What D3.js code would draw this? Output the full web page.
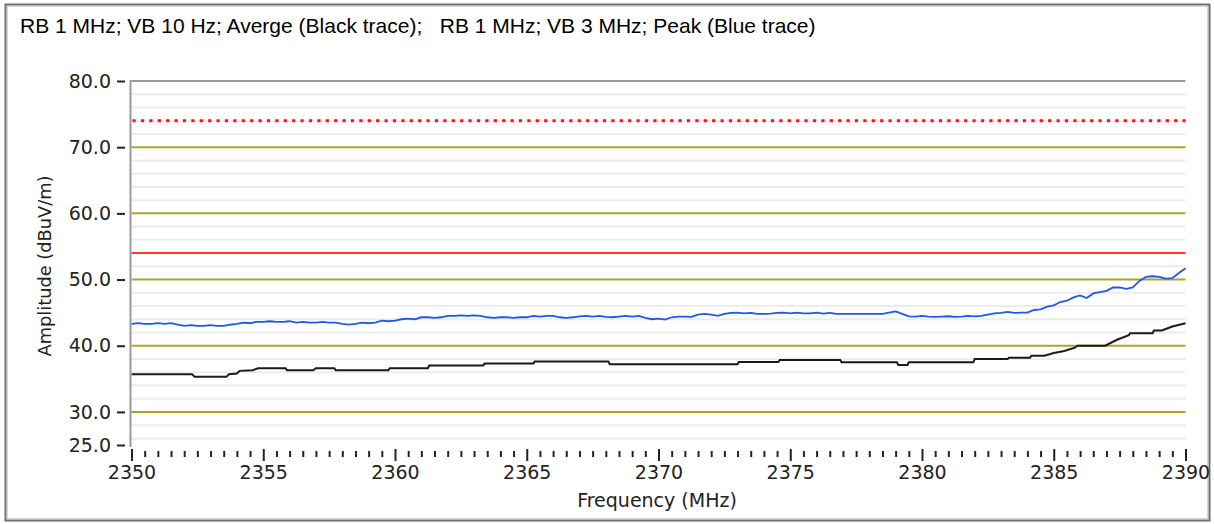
<!DOCTYPE html>
<html>
<head>
<meta charset="utf-8">
<script src="https://cdn.jsdelivr.net/npm/d3@7"></script>
<style>
  html, body { margin: 0; padding: 0; background: #ffffff; }
  svg { display: block; }
</style>
</head>
<body>
<svg id="chart" width="1214" height="524"></svg>
<script>
// Sweep settings: 2350–2390 MHz, trace points every 0.25 MHz
const sweepStart = 2350;
const sweepStep = 0.25;

// Peak detector trace (RB 1 MHz, VB 3 MHz), dBuV/m
const peakTrace = [
  43.3, 43.4, 43.3, 43.3,
  43.4, 43.3, 43.4, 43.2,
  43.0, 43.1, 43.0, 43.0,
  43.1, 43.0, 43.0, 43.2,
  43.3, 43.5, 43.4, 43.6,
  43.6, 43.7, 43.6, 43.6,
  43.7, 43.5, 43.6, 43.5,
  43.5, 43.6, 43.5, 43.5,
  43.3, 43.2, 43.3, 43.5,
  43.4, 43.5, 43.8, 43.7,
  43.8, 44.0, 44.1, 44.0,
  44.3, 44.3, 44.2, 44.3,
  44.5, 44.5, 44.6, 44.5,
  44.6, 44.5, 44.3, 44.2,
  44.3, 44.3, 44.2, 44.3,
  44.3, 44.5, 44.4, 44.5,
  44.5, 44.3, 44.2, 44.3,
  44.45, 44.5, 44.4, 44.5,
  44.35, 44.3, 44.4, 44.5,
  44.4, 44.5, 44.2, 44.0,
  44.1, 43.95, 44.3, 44.4,
  44.4, 44.35, 44.7, 44.8,
  44.7, 44.5, 44.8, 44.95,
  45.0, 44.9, 44.95, 44.8,
  44.8, 44.85, 44.95, 45.0,
  44.9, 45.0, 44.9, 44.9,
  45.0, 44.85, 44.95, 44.8,
  44.8, 44.8, 44.8, 44.8,
  44.8, 44.8, 44.8, 45.0,
  45.2, 44.8, 44.45, 44.4,
  44.5, 44.4, 44.35, 44.4,
  44.45, 44.35, 44.4, 44.5,
  44.45, 44.5, 44.7, 44.9,
  44.95, 45.1, 44.95, 45.0,
  45.0, 45.4, 45.5, 45.9,
  46.1, 46.6, 46.8, 47.3,
  47.6, 47.2, 47.9, 48.1,
  48.3, 48.8, 48.8, 48.6,
  48.8, 49.8, 50.4, 50.5,
  50.4, 50.15, 50.2, 51.0,
  51.7
];

// Average detector trace (RB 1 MHz, VB 10 Hz): [frequency MHz, dBuV/m]
const averageTrace = [
  [2350.0, 35.7], [2352.3, 35.7], [2352.4, 35.3], [2353.6, 35.3],
  [2353.7, 35.7], [2354.0, 35.8], [2354.1, 36.2], [2354.6, 36.3],
  [2354.8, 36.6], [2355.85, 36.6], [2355.9, 36.3], [2356.9, 36.3],
  [2357.0, 36.6], [2357.7, 36.6], [2357.75, 36.3], [2359.75, 36.3],
  [2359.8, 36.6], [2361.25, 36.6], [2361.3, 37.0], [2363.35, 37.0],
  [2363.4, 37.3], [2365.25, 37.3], [2365.3, 37.6], [2368.1, 37.6],
  [2368.15, 37.2], [2373.0, 37.2], [2373.05, 37.55], [2374.55, 37.55],
  [2374.6, 37.85], [2376.9, 37.85], [2376.95, 37.5], [2379.05, 37.5],
  [2379.1, 37.1], [2379.45, 37.1], [2379.5, 37.5], [2381.95, 37.5],
  [2382.0, 38.0], [2383.25, 38.0], [2383.3, 38.2], [2384.1, 38.2],
  [2384.15, 38.5], [2384.65, 38.5], [2385.0, 38.9], [2385.4, 39.2],
  [2385.8, 39.7], [2385.9, 40.0], [2386.95, 40.0], [2387.4, 40.9],
  [2387.85, 41.6], [2387.9, 41.9], [2388.75, 41.9], [2388.8, 42.3],
  [2389.1, 42.3], [2389.5, 42.9], [2390.0, 43.4]
];

// Limit lines
const peakLimit = 74;
const averageLimit = 54;

// Axis ticks
const yMajorTicks = [25, 30, 40, 50, 60, 70, 80];
const yMinorGrid = [26, 28, 32, 34, 36, 38, 42, 44, 46, 48, 52, 54, 56, 58, 62, 64, 66, 68, 72, 74, 76, 78];
const yOliveGrid = [30, 40, 50, 60, 70];
const xMajorTicks = [2350, 2355, 2360, 2365, 2370, 2375, 2380, 2385, 2390];

const titleText = "RB 1 MHz; VB 10 Hz; Averge (Black trace);   RB 1 MHz; VB 3 MHz; Peak (Blue trace)";

const svg = d3.select("#chart");

// Outer frame
svg.append("rect")
  .attr("x", 5.5).attr("y", 4.5)
  .attr("width", 1204).attr("height", 516)
  .attr("fill", "#ffffff")
  .attr("stroke", "#6e6e6e").attr("stroke-width", 2);
svg.append("rect")
  .attr("x", 7.5).attr("y", 6.5)
  .attr("width", 1200).attr("height", 512)
  .attr("fill", "none")
  .attr("stroke", "#d6d6d6").attr("stroke-width", 1);

svg.append("text")
  .attr("x", 20).attr("y", 33)
  .attr("font-family", "'Liberation Sans', Arial, sans-serif")
  .attr("font-size", 21)
  .attr("fill", "#000")
  .style("white-space", "pre")
  .text(titleText);

const x = d3.scaleLinear().domain([2350, 2390]).range([131.5, 1185.5]);
const y = d3.scaleLinear().domain([25, 80]).range([445, 81]);

const plot = svg.append("g");

// Light minor grid
plot.selectAll("line.minor")
  .data(yMinorGrid)
  .join("line")
  .attr("class", "minor")
  .attr("x1", x(2350)).attr("x2", x(2390))
  .attr("y1", d => y(d)).attr("y2", d => y(d))
  .attr("stroke", "#ececec").attr("stroke-width", 2);

// Olive major grid
plot.selectAll("line.major")
  .data(yOliveGrid)
  .join("line")
  .attr("class", "major")
  .attr("x1", x(2350)).attr("x2", x(2390))
  .attr("y1", d => y(d)).attr("y2", d => y(d))
  .attr("stroke", "#a8a824").attr("stroke-width", 2);

// Top frame line at 80
plot.append("line")
  .attr("x1", x(2350)).attr("x2", x(2390))
  .attr("y1", y(80)).attr("y2", y(80))
  .attr("stroke", "#9a9a9a").attr("stroke-width", 2);

// Average limit (solid red)
plot.append("line")
  .attr("x1", x(2350)).attr("x2", x(2390))
  .attr("y1", y(averageLimit)).attr("y2", y(averageLimit))
  .attr("stroke", "#ff3a22").attr("stroke-width", 2);

// Peak limit (dotted red)
plot.append("line")
  .attr("x1", x(2350) + 1).attr("x2", x(2390))
  .attr("y1", y(peakLimit)).attr("y2", y(peakLimit))
  .attr("stroke", "#ff1020").attr("stroke-width", 3)
  .attr("stroke-dasharray", "3.2,5.2");

// Traces
const peakLine = d3.line()
  .x((d, i) => x(sweepStart + i * sweepStep))
  .y(d => y(d));
plot.append("path")
  .datum(peakTrace)
  .attr("fill", "none")
  .attr("stroke", "#2257e6")
  .attr("stroke-width", 1.8)
  .attr("stroke-linejoin", "miter")
  .attr("d", peakLine);

const avgLine = d3.line()
  .x(d => x(d[0]))
  .y(d => y(d[1]));
plot.append("path")
  .datum(averageTrace)
  .attr("fill", "none")
  .attr("stroke", "#1a1a1a")
  .attr("stroke-width", 2)
  .attr("d", avgLine);

// Left axis line
svg.append("line")
  .attr("x1", 130.5).attr("x2", 130.5)
  .attr("y1", y(80) - 1).attr("y2", y(25) + 2)
  .attr("stroke", "#9a9a9a").attr("stroke-width", 2);

const tickFont = "'DejaVu Sans', Verdana, sans-serif";

// Y axis
const yAxis = svg.append("g")
  .attr("transform", "translate(125,0)")
  .call(d3.axisLeft(y)
    .tickValues(yMajorTicks)
    .tickFormat(d3.format(".1f"))
    .tickSize(8)
    .tickPadding(6));
yAxis.select(".domain").remove();
yAxis.selectAll(".tick line").attr("stroke", "#222").attr("stroke-width", 2);
yAxis.selectAll(".tick text")
  .attr("font-family", tickFont)
  .attr("font-size", 19)
  .attr("fill", "#222");

// X axis: minor ticks every 0.5 MHz
const xMinorTicks = d3.range(2350, 2390.01, 0.5).filter(v => v % 5 !== 0);
const xMinor = svg.append("g")
  .attr("transform", "translate(0,451)")
  .call(d3.axisBottom(x).tickValues(xMinorTicks).tickSize(6).tickFormat(""));
xMinor.select(".domain").remove();
xMinor.selectAll(".tick line").attr("stroke", "#222").attr("stroke-width", 2);

const xAxis = svg.append("g")
  .attr("transform", "translate(0,449)")
  .call(d3.axisBottom(x)
    .tickValues(xMajorTicks)
    .tickFormat(d3.format("d"))
    .tickSize(12)
    .tickPadding(5));
xAxis.select(".domain").remove();
xAxis.selectAll(".tick line").attr("stroke", "#222").attr("stroke-width", 2);
xAxis.selectAll(".tick text")
  .attr("font-family", tickFont)
  .attr("font-size", 19)
  .attr("fill", "#222");

// Axis titles
svg.append("text")
  .attr("transform", "translate(51,266) rotate(-90)")
  .attr("text-anchor", "middle")
  .attr("font-family", tickFont)
  .attr("font-size", 17.8)
  .attr("fill", "#222")
  .text("Amplitude (dBuV/m)");

svg.append("text")
  .attr("x", 657).attr("y", 507)
  .attr("text-anchor", "middle")
  .attr("font-family", tickFont)
  .attr("font-size", 19)
  .attr("fill", "#222")
  .text("Frequency (MHz)");
</script>
</body>
</html>
